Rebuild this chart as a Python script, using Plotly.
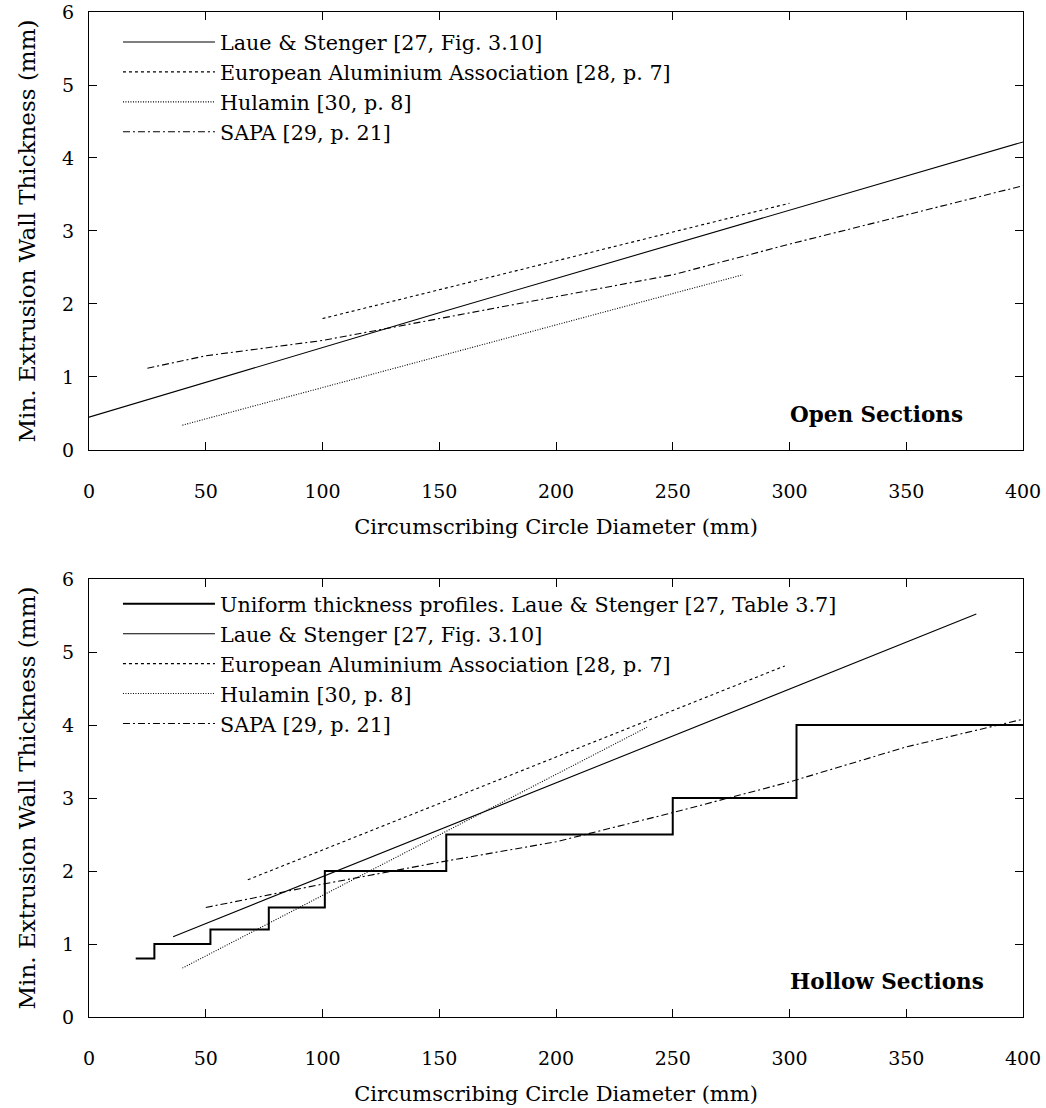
import plotly.graph_objects as go

# ---------------- data: Open sections (top) ----------------
open_laue_x = [0, 50, 100, 150, 200, 250, 300, 350, 400]
open_laue_y = [0.45, 0.93, 1.41, 1.88, 2.35, 2.82, 3.29, 3.76, 4.22]
open_eaa_x = [100, 300]
open_eaa_y = [1.80, 3.38]
open_hul_x = [40, 280]
open_hul_y = [0.34, 2.40]
open_sapa_x = [25, 50, 100, 150, 200, 250, 300, 350, 400]
open_sapa_y = [1.12, 1.29, 1.50, 1.80, 2.10, 2.40, 2.82, 3.22, 3.62]

# ---------------- data: Hollow sections (bottom) ----------------
hol_uni_x = [20, 28, 52, 77, 101, 153, 250, 303, 400]
hol_uni_y = [0.8, 1.0, 1.2, 1.5, 2.0, 2.5, 3.0, 4.0, 4.0]
hol_laue_x = [36, 380]
hol_laue_y = [1.10, 5.52]
hol_eaa_x = [68, 298]
hol_eaa_y = [1.88, 4.81]
hol_hul_x = [40, 239]
hol_hul_y = [0.67, 3.97]
hol_sapa_x = [50, 100, 150, 200, 250, 300, 350, 400]
hol_sapa_y = [1.50, 1.82, 2.12, 2.40, 2.80, 3.22, 3.70, 4.08]

x_ticks = [0, 50, 100, 150, 200, 250, 300, 350, 400]
y_ticks = [0, 1, 2, 3, 4, 5, 6]

FONT = "DejaVu Serif"
LFS = 20.7   # legend
TFS = 19     # tick labels

names = {
    "uni": "Uniform thickness profiles. Laue & Stenger [27, Table 3.7]",
    "laue": "Laue & Stenger [27, Fig. 3.10]",
    "eaa": "European Aluminium Association [28, p. 7]",
    "hul": "Hulamin [30, p. 8]",
    "sapa": "SAPA [29, p. 21]",
}
styles = {
    "uni": dict(color="black", width=2, dash="solid"),
    "laue": dict(color="black", width=1.1, dash="solid"),
    "eaa": dict(color="black", width=1.1, dash="3px,3px"),
    "hul": dict(color="black", width=1.1, dash="1px,1.5px"),
    "sapa": dict(color="black", width=1.1, dash="7px,3px,2px,3px"),
}

fig = go.Figure()

def add(x, y, key, xa, ya, leg, shape="linear"):
    fig.add_trace(go.Scatter(
        x=x, y=y, mode="lines", name=names[key], line=dict(shape=shape, **styles[key]),
        xaxis=xa, yaxis=ya, legend=leg, showlegend=True))

add(open_laue_x, open_laue_y, "laue", "x", "y", "legend")
add(open_eaa_x, open_eaa_y, "eaa", "x", "y", "legend")
add(open_hul_x, open_hul_y, "hul", "x", "y", "legend")
add(open_sapa_x, open_sapa_y, "sapa", "x", "y", "legend")

add(hol_uni_x, hol_uni_y, "uni", "x2", "y2", "legend2", shape="hv")
add(hol_laue_x, hol_laue_y, "laue", "x2", "y2", "legend2")
add(hol_eaa_x, hol_eaa_y, "eaa", "x2", "y2", "legend2")
add(hol_hul_x, hol_hul_y, "hul", "x2", "y2", "legend2")
add(hol_sapa_x, hol_sapa_y, "sapa", "x2", "y2", "legend2")

axis_common = dict(
    showline=True, linecolor="black", linewidth=1.3, mirror="allticks",
    ticks="inside", ticklen=8, tickwidth=1, tickcolor="black",
    showgrid=False, zeroline=False, automargin=False,
    tickfont=dict(family=FONT, size=TFS, color="black"),
)
xt = dict(text="Circumscribing Circle Diameter (mm)", standoff=18, font=dict(family=FONT, size=21))
yt = dict(text="Min. Extrusion Wall Thickness (mm)", standoff=19, font=dict(family=FONT, size=23))

fig.update_layout(
    width=1046, height=1108,
    paper_bgcolor="white", plot_bgcolor="white",
    margin=dict(l=89, r=23, t=12, b=91),
    font=dict(family=FONT, size=LFS, color="black"),
    xaxis=dict(domain=[0, 1], anchor="y", range=[0, 400], tickvals=x_ticks, ticklabelstandoff=24,
               title=xt, **axis_common),
    yaxis=dict(domain=[0.5642, 1], anchor="x", range=[0, 6], tickvals=y_ticks, ticklabelstandoff=10,
               title=yt, **axis_common),
    xaxis2=dict(domain=[0, 1], anchor="y2", range=[0, 400], tickvals=x_ticks, ticklabelstandoff=24,
                title=xt, **axis_common),
    yaxis2=dict(domain=[0, 0.4358], anchor="x2", range=[0, 6], tickvals=y_ticks, ticklabelstandoff=10,
                title=yt, **axis_common),
    legend=dict(x=0.031, y=0.990, xanchor="left", yanchor="top", bgcolor="rgba(0,0,0,0)",
                borderwidth=0, itemwidth=92, font=dict(family=FONT, size=LFS), tracegroupgap=0),
    legend2=dict(x=0.031, y=0.431, xanchor="left", yanchor="top", bgcolor="rgba(0,0,0,0)",
                 borderwidth=0, itemwidth=92, font=dict(family=FONT, size=LFS), tracegroupgap=0),
    annotations=[
        dict(text="<b>Open Sections</b>", xref="x domain", yref="y domain", x=0.938, y=0.08,
             xanchor="right", yanchor="middle", showarrow=False, font=dict(family=FONT, size=21.5)),
        dict(text="<b>Hollow Sections</b>", xref="x2 domain", yref="y2 domain", x=0.96, y=0.08,
             xanchor="right", yanchor="middle", showarrow=False, font=dict(family=FONT, size=21.5)),
    ],
)

fig.write_html("out.html", config={"displayModeBar": False},
               post_script="document.body.style.margin='0px';")
